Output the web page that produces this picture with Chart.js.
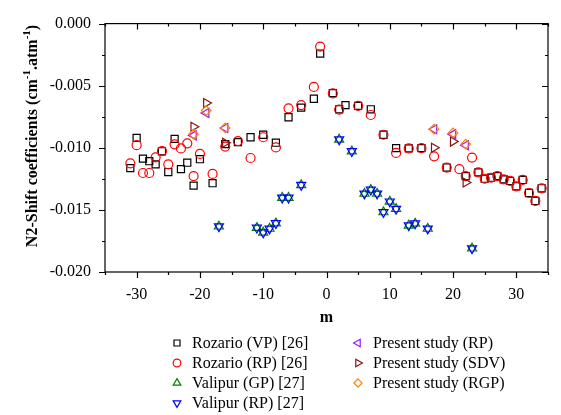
<!DOCTYPE html>
<html>
<head>
<meta charset="utf-8">
<script src="https://cdn.jsdelivr.net/npm/chart.js@4.4.1/dist/chart.umd.min.js"></script>
<style>
  html, body { margin: 0; padding: 0; background: #fff; }
  #wrap { width: 561px; height: 415px; }
</style>
</head>
<body>
<div id="wrap"><canvas id="shift_chart" width="561" height="415"></canvas></div>
<script>
// values (m, shift coefficient in cm-1.atm-1)
const rozario_vp_m = [-31,-30,-29,-28,-27,-26,-25,-24,-23,-22,-21,-20,-18,-16,-14,-12,-10,-8,-6,-4,-2,-1,1,2,3,5,7,9,11,13,15,19,22,24,25,26,27,28,29,30,31,32,33,34];
const rozario_vp = [-0.01164,-0.00921,-0.01087,-0.01108,-0.01133,-0.01028,-0.01195,-0.00928,-0.01172,-0.01120,
  -0.01305,-0.01092,-0.01285,-0.00970,-0.00954,-0.00915,-0.00895,-0.00959,-0.00754,-0.00677,
  -0.00605,-0.00241,-0.00560,-0.00690,-0.00656,-0.00662,-0.00690,-0.00895,-0.01003,-0.01005,
  -0.01003,-0.01159,-0.01228,-0.01198,-0.01249,-0.01241,-0.01228,-0.01254,-0.01267,-0.01310,
  -0.01259,-0.01364,-0.01428,-0.01326];

const rozario_rp_m = [-31,-30,-29,-28,-27,-26,-25,-24,-23,-22,-21,-20,-18,-16,-14,-12,-10,-8,-6,-4,-2,-1,1,2,5,7,9,11,13,15,17,19,21,22,23,24,25,26,27,28,29,30,31,32,33,34];
const rozario_rp = [-0.01125,-0.00979,-0.01203,-0.01203,-0.01077,-0.01026,-0.01133,-0.00972,-0.01005,-0.00964,
  -0.01228,-0.01049,-0.01210,-0.00990,-0.00946,-0.01082,-0.00915,-0.00997,-0.00682,-0.00656,
  -0.00510,-0.00185,-0.00562,-0.00692,-0.00662,-0.00736,-0.00895,-0.01041,-0.01005,-0.01003,
  -0.01069,-0.01159,-0.01172,-0.01228,-0.01079,-0.01198,-0.01249,-0.01241,-0.01228,-0.01254,
  -0.01267,-0.01310,-0.01259,-0.01364,-0.01428,-0.01326];

const valipur_m = [-17,-11,-10,-9,-8,-7,-6,-4,2,4,6,7,8,9,10,11,13,14,16,23];
const valipur_gp = [-0.01633,-0.01644,-0.01682,-0.01651,-0.01608,-0.01402,-0.01402,-0.01300,-0.00933,-0.01028,
  -0.01369,-0.01338,-0.01369,-0.01518,-0.01433,-0.01492,-0.01625,-0.01610,-0.01651,-0.01810];
const valipur_rp = [-0.01633,-0.01644,-0.01682,-0.01651,-0.01608,-0.01402,-0.01402,-0.01300,-0.00933,-0.01028,
  -0.01369,-0.01338,-0.01369,-0.01518,-0.01433,-0.01492,-0.01625,-0.01610,-0.01651,-0.01810];

const present_m = [-21,-19,-16,17,20,22];
const present_rp = [-0.0090,-0.0072,-0.0084,-0.0085,-0.0089,-0.0098];
const present_sdv = [-0.0083,-0.0064,-0.0096,-0.0100,-0.0095,-0.0128];
const present_rgp = [-0.0089,-0.0070,-0.0084,-0.0085,-0.0088,-0.0097];

const serif = '"Liberation Serif", "Times New Roman", serif';

function pts(ms, vals) {
  return ms.map((m, i) => ({ x: m, y: vals[i] }));
}

function series(label, ms, vals, color, style, rot, radius, order) {
  return {
    label: label,
    data: pts(ms, vals),
    showLine: false,
    pointStyle: style,
    rotation: rot,
    pointRadius: radius,
    pointBorderColor: color,
    pointBackgroundColor: 'rgba(0,0,0,0)',
    pointBorderWidth: 1.2,
    order: order
  };
}

const datasets = [
  series('Rozario (VP) [26]', rozario_vp_m, rozario_vp, '#000000', 'rect', 0, 5, 8),
  series('Rozario (RP) [26]', rozario_rp_m, rozario_rp, '#ff0000', 'circle', 0, 4.5, 7),
  series('Valipur (GP) [27]', valipur_m, valipur_gp, '#008000', 'triangle', 0, 5.2, 6),
  series('Valipur (RP) [27]', valipur_m, valipur_rp, '#0000ff', 'triangle', 180, 5.2, 5),
  series('Present study (RP)', present_m, present_rp, '#9a1cf0', 'triangle', 270, 5.2, 3),
  series('Present study (SDV)', present_m, present_sdv, '#8b1010', 'triangle', 90, 5.2, 4),
  series('Present study (RGP)', present_m, present_rgp, '#ff8000', 'rectRot', 0, 4.8, 2)
];

function isMajor(v, step) {
  return Math.abs(v / step - Math.round(v / step)) < 1e-6;
}

// small marker painter for the legend
function marker(ctx, style, rot, r, x, y) {
  ctx.beginPath();
  if (style === 'rect') {
    const s = r * Math.SQRT1_2;
    ctx.rect(x - s, y - s, 2 * s, 2 * s);
  } else if (style === 'circle') {
    ctx.arc(x, y, r, 0, Math.PI * 2);
  } else if (style === 'rectRot') {
    ctx.moveTo(x, y - r); ctx.lineTo(x + r, y); ctx.lineTo(x, y + r); ctx.lineTo(x - r, y); ctx.closePath();
  } else {
    let a = rot * Math.PI / 180;
    for (let k = 0; k < 3; k++) {
      const px = x + Math.sin(a) * r, py = y - Math.cos(a) * r;
      if (k === 0) ctx.moveTo(px, py); else ctx.lineTo(px, py);
      a += Math.PI * 2 / 3;
    }
    ctx.closePath();
  }
  ctx.stroke();
}

const framePlugin = {
  id: 'frame',
  afterDraw(chart) {
    const ctx = chart.ctx;
    const a = chart.chartArea;
    const xs = chart.scales.x, ys = chart.scales.y;
    ctx.save();
    ctx.strokeStyle = '#000';
    ctx.lineWidth = 1.2;
    ctx.strokeRect(a.left, a.top, a.right - a.left, a.bottom - a.top);
    ctx.beginPath();
    xs.ticks.forEach(t => {
      const px = Math.round(xs.getPixelForValue(t.value)) + 0.5;
      const len = isMajor(t.value, 10) ? 6 : 3;
      ctx.moveTo(px, a.bottom); ctx.lineTo(px, a.bottom + len);
      ctx.moveTo(px, a.top); ctx.lineTo(px, a.top + len);
    });
    ys.ticks.forEach(t => {
      const py = Math.round(ys.getPixelForValue(t.value)) + 0.5;
      const len = isMajor(t.value, 0.005) ? 6 : 3;
      ctx.moveTo(a.left, py); ctx.lineTo(a.left - len, py);
      ctx.moveTo(a.right, py); ctx.lineTo(a.right - len, py);
    });
    ctx.stroke();

    // axis titles
    ctx.fillStyle = '#000';
    ctx.textBaseline = 'middle';
    ctx.textAlign = 'center';
    ctx.font = 'bold 16px ' + serif;
    ctx.fillText('m', (a.left + a.right) / 2, 318);

    const parts = [
      ['N2-Shift coefficients (cm', false], ['-1', true], ['.atm', false], ['-1', true], [')', false]
    ];
    const big = 'bold 16px ' + serif, small = 'bold 11px ' + serif;
    let total = 0;
    parts.forEach(p => { ctx.font = p[1] ? small : big; total += ctx.measureText(p[0]).width; });
    ctx.translate(33, 136);
    ctx.rotate(-Math.PI / 2);
    ctx.textAlign = 'left';
    let cx = -total / 2;
    parts.forEach(p => {
      ctx.font = p[1] ? small : big;
      ctx.fillText(p[0], cx, p[1] ? -6 : 0);
      cx += ctx.measureText(p[0]).width;
    });
    ctx.restore();

    // legend, two columns
    ctx.save();
    ctx.font = '16px ' + serif;
    ctx.textBaseline = 'middle';
    ctx.textAlign = 'left';
    ctx.lineWidth = 1.2;
    const rows = [343, 363, 383, 403];
    chart.data.datasets.forEach((ds, i) => {
      const col = i < 4 ? 0 : 1;
      const y = rows[col === 0 ? i : i - 4];
      const mx = col === 0 ? 177 : 358;
      ctx.strokeStyle = ds.pointBorderColor;
      marker(ctx, ds.pointStyle, ds.rotation, ds.pointRadius * 0.85, mx, y);
      ctx.fillStyle = '#000';
      ctx.fillText(ds.label, mx + 15, y + 1);
    });
    ctx.restore();
  }
};

new Chart(document.getElementById('shift_chart'), {
  type: 'scatter',
  data: { datasets: datasets },
  options: {
    responsive: false,
    animation: false,
    layout: { padding: { top: 12, right: 10, left: 0, bottom: 0 } },
    plugins: { legend: { display: false }, tooltip: { enabled: false } },
    scales: {
      x: {
        type: 'linear',
        min: -35,
        max: 35,
        grid: { display: false, drawTicks: false },
        border: { display: false },
        afterFit(s) { s.height = 143; },
        ticks: {
          stepSize: 5,
          autoSkip: false,
          maxRotation: 0,
          padding: 13,
          color: '#000',
          font: { family: serif, size: 16 },
          callback: v => isMajor(v, 10) ? String(Math.round(v)) : ''
        }
      },
      y: {
        min: -0.02,
        max: 0,
        grid: { display: false, drawTicks: false },
        border: { display: false },
        afterFit(s) { s.width = 105; },
        ticks: {
          stepSize: 0.0025,
          autoSkip: false,
          padding: 14,
          color: '#000',
          font: { family: serif, size: 16 },
          callback: v => isMajor(v, 0.005) ? v.toFixed(3) : ''
        }
      }
    }
  },
  plugins: [framePlugin]
});
</script>
</body>
</html>
